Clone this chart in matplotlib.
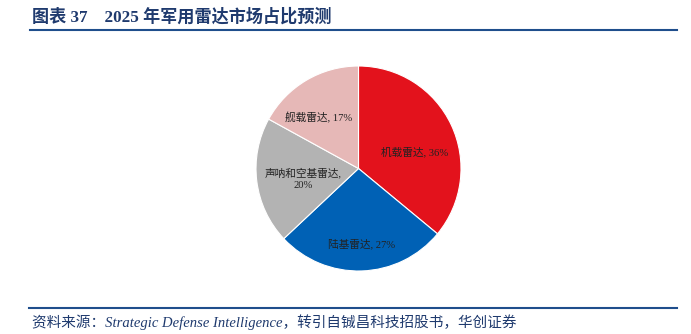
import matplotlib
matplotlib.use("Agg")
import matplotlib.pyplot as plt
from matplotlib.lines import Line2D

plt.rcParams['font.family'] = ['Liberation Serif', 'Noto Sans CJK SC', 'DejaVu Sans']

labels = ['机载雷达', '陆基雷达', '声呐和空基雷达', '舰载雷达']
shares = [36, 27, 20, 17]
colors = ['#E3121C', '#0061B5', '#B3B3B3', '#E6B8B7']
# label positions in pie units (radius 1)
label_pos = [(0.545, 0.16), (0.03, -0.735), (-0.54, -0.10), (-0.39, 0.50)]
label_text = ['机载雷达, 36%', '陆基雷达, 27%', '声呐和空基雷达,\n20%', '舰载雷达, 17%']

W, H = 691, 334
fig = plt.figure(figsize=(W / 100, H / 100), dpi=100)

cx, cy, r = 358.5, 168.5, 102.5
ax = fig.add_axes([(cx - r) / W, (H - cy - r) / H, 2 * r / W, 2 * r / H])
ax.pie(shares, colors=colors, startangle=90, counterclock=False,
       radius=1, wedgeprops=dict(edgecolor='white', linewidth=0.8))
ax.set_xlim(-1, 1)
ax.set_ylim(-1, 1)
ax.set_aspect('equal')
ax.axis('off')

for (x, y), t in zip(label_pos, label_text):
    ax.text(x, y, t, ha='center', va='center', fontsize=7.7, color='#222222',
            linespacing=1.35)

navy = '#1F3A6E'
fig.text(32 / W, 1 - 17 / H, '图表 37    2025 年军用雷达市场占比预测',
         fontsize=12.3, fontweight='bold', color=navy, ha='left', va='center')
fig.add_artist(Line2D([30 / W, 677 / W], [1 - 30 / H, 1 - 30 / H],
                      color='#1F4E8C', linewidth=1.5, transform=fig.transFigure))
fig.add_artist(Line2D([29 / W, 677 / W], [1 - 308 / H, 1 - 308 / H],
                      color='#1F4E8C', linewidth=1.5, transform=fig.transFigure))
fig.text(32 / W, 1 - 322 / H,
         '资料来源：Strategic Defense Intelligence，转引自铖昌科技招股书，华创证券',
         fontsize=10.5, style='italic', color=navy, ha='left', va='center')

fig.savefig('out.png', dpi=100)
